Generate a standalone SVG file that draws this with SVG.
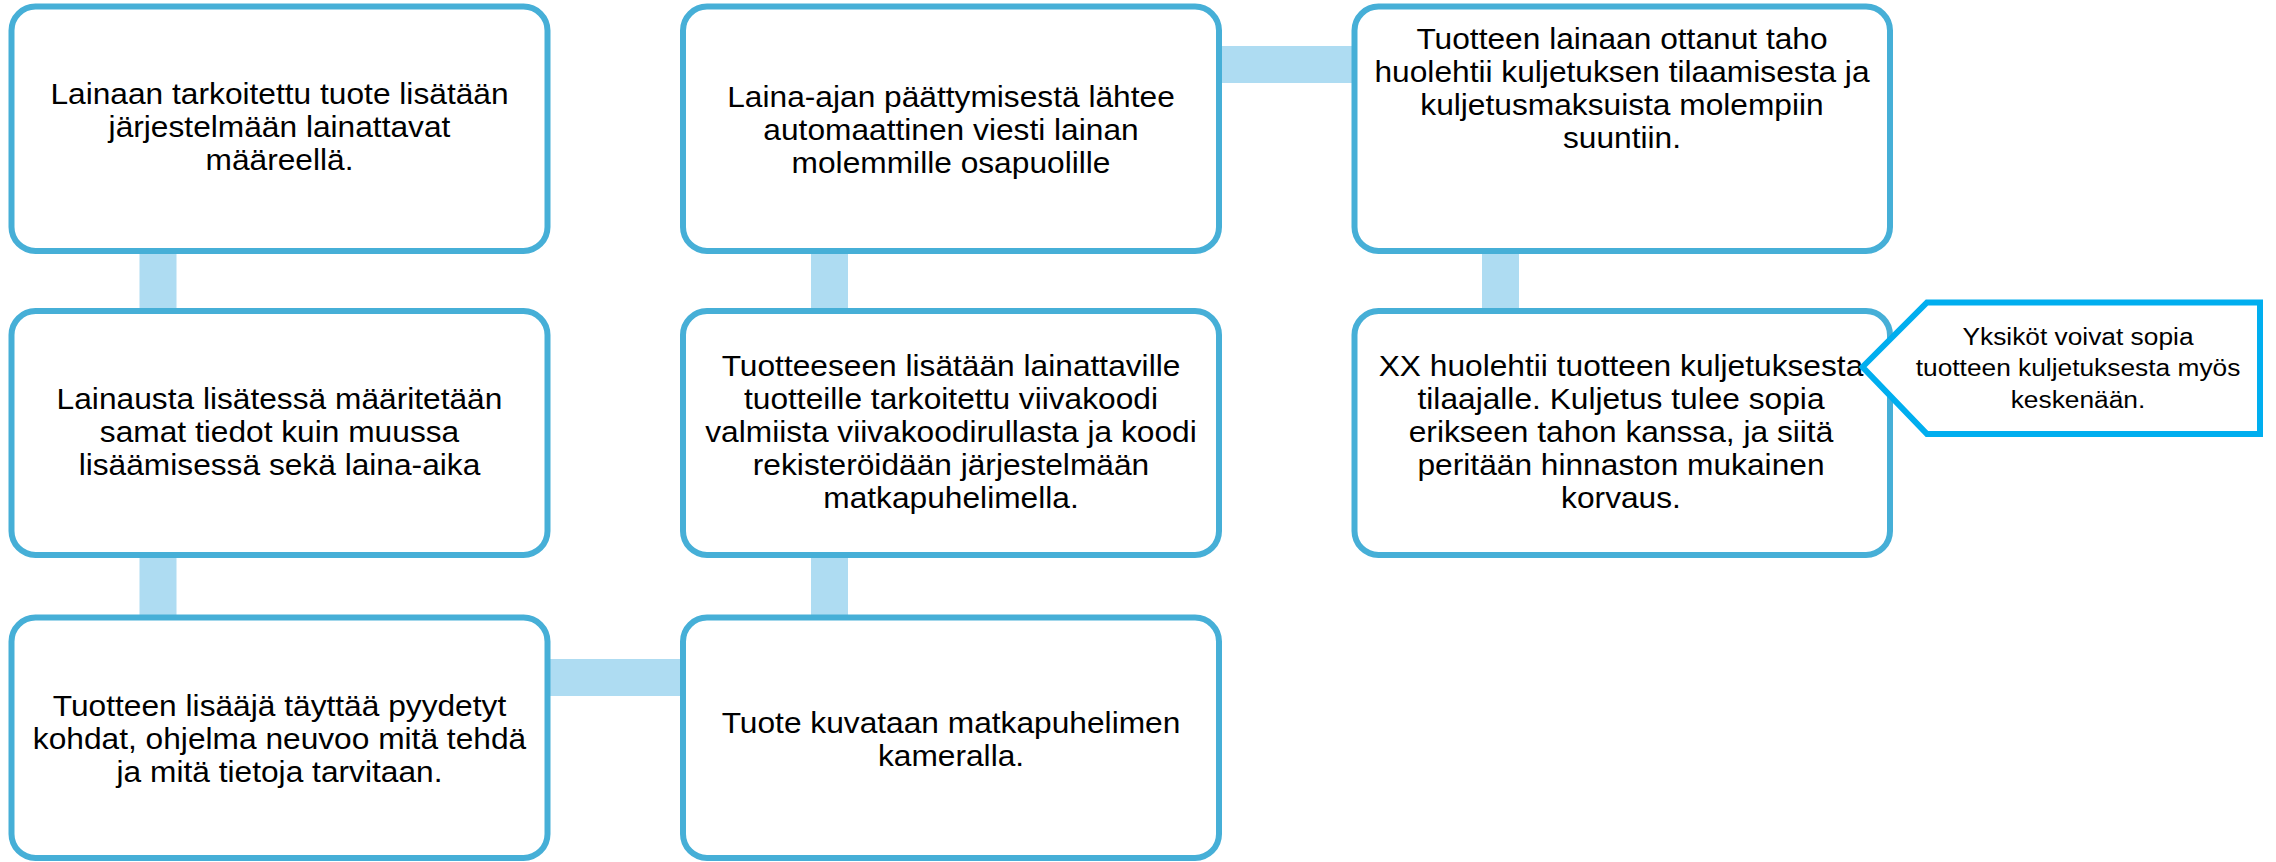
<svg xmlns="http://www.w3.org/2000/svg" width="2276" height="862" viewBox="0 0 2276 862">
<style>
.box{fill:#ffffff;stroke:#46AFD7;stroke-width:6}
.conn{fill:#AEDCF2}
.t{font-family:"Liberation Sans",Arial,sans-serif;font-size:29.5px;fill:#000000;text-anchor:middle}
.ct{font-family:"Liberation Sans",Arial,sans-serif;font-size:23.5px;fill:#000000;text-anchor:middle}
.callout{fill:#ffffff;stroke:#00AEEF;stroke-width:6;stroke-linejoin:miter}
</style>
<rect width="2276" height="862" fill="#ffffff"/>
<g id="connectors">
<rect class="conn" x="139.5" y="248" width="37" height="66"/>
<rect class="conn" x="139.5" y="552" width="37" height="68"/>
<rect class="conn" x="545" y="659" width="140" height="37"/>
<rect class="conn" x="811" y="248" width="37" height="66"/>
<rect class="conn" x="811" y="552" width="37" height="68"/>
<rect class="conn" x="1216" y="46" width="141" height="37"/>
<rect class="conn" x="1482" y="248" width="37" height="66"/>
</g>
<g id="n1">
<rect class="box" x="11.5" y="6.5" width="536" height="244.5" rx="24"/>
<text class="t" transform="translate(279.5 0) scale(1.075 1)"><tspan x="0" y="104.5">Lainaan tarkoitettu tuote lisätään</tspan><tspan x="0" y="137.5">järjestelmään lainattavat</tspan><tspan x="0" y="170.5">määreellä.</tspan></text>
</g>
<g id="n2">
<rect class="box" x="11.5" y="311" width="536" height="244" rx="24"/>
<text class="t" transform="translate(279.5 0) scale(1.075 1)"><tspan x="0" y="409">Lainausta lisätessä määritetään</tspan><tspan x="0" y="442">samat tiedot kuin muussa</tspan><tspan x="0" y="475">lisäämisessä sekä laina-aika</tspan></text>
</g>
<g id="n3">
<rect class="box" x="11.5" y="617.5" width="536" height="240.5" rx="24"/>
<text class="t" transform="translate(279.5 0) scale(1.075 1)"><tspan x="0" y="716.5">Tuotteen lisääjä täyttää pyydetyt</tspan><tspan x="0" y="749.5">kohdat, ohjelma neuvoo mitä tehdä</tspan><tspan x="0" y="782.5">ja mitä tietoja tarvitaan.</tspan></text>
</g>
<g id="n4">
<rect class="box" x="683" y="617.5" width="536" height="240.5" rx="24"/>
<text class="t" transform="translate(951 0) scale(1.075 1)"><tspan x="0" y="733">Tuote kuvataan matkapuhelimen</tspan><tspan x="0" y="766">kameralla.</tspan></text>
</g>
<g id="n5">
<rect class="box" x="683" y="311" width="536" height="244" rx="24"/>
<text class="t" transform="translate(951 0) scale(1.075 1)"><tspan x="0" y="376.5">Tuotteeseen lisätään lainattaville</tspan><tspan x="0" y="409.5">tuotteille tarkoitettu viivakoodi</tspan><tspan x="0" y="442.5">valmiista viivakoodirullasta ja koodi</tspan><tspan x="0" y="475.5">rekisteröidään järjestelmään</tspan><tspan x="0" y="508.5">matkapuhelimella.</tspan></text>
</g>
<g id="n6">
<rect class="box" x="683" y="6.5" width="536" height="244.5" rx="24"/>
<text class="t" transform="translate(951 0) scale(1.075 1)"><tspan x="0" y="107">Laina-ajan päättymisestä lähtee</tspan><tspan x="0" y="140">automaattinen viesti lainan</tspan><tspan x="0" y="173">molemmille osapuolille</tspan></text>
</g>
<g id="n7">
<rect class="box" x="1354.5" y="6.5" width="535.5" height="244.5" rx="24"/>
<text class="t" transform="translate(1622 0) scale(1.075 1)"><tspan x="0" y="49">Tuotteen lainaan ottanut taho</tspan><tspan x="0" y="82">huolehtii kuljetuksen tilaamisesta ja</tspan><tspan x="0" y="115">kuljetusmaksuista molempiin</tspan><tspan x="0" y="148">suuntiin.</tspan></text>
</g>
<g id="n8">
<rect class="box" x="1354.5" y="311" width="535.5" height="244" rx="24"/>
<text class="t" transform="translate(1621 0) scale(1.075 1)"><tspan x="0" y="376.5">XX huolehtii tuotteen kuljetuksesta</tspan><tspan x="0" y="409.5">tilaajalle. Kuljetus tulee sopia</tspan><tspan x="0" y="442.5">erikseen tahon kanssa, ja siitä</tspan><tspan x="0" y="475.5">peritään hinnaston mukainen</tspan><tspan x="0" y="508.5">korvaus.</tspan></text>
</g>
<g id="callout">
<polygon class="callout" points="1862.5,367 1927,302.5 2260,302.5 2260,434 1927,434"/>
<text class="ct" transform="translate(2078 0) scale(1.12 1)"><tspan x="0" y="345">Yksiköt voivat sopia</tspan><tspan x="0" y="376.5">tuotteen kuljetuksesta myös</tspan><tspan x="0" y="408">keskenään.</tspan></text>
</g>
</svg>
